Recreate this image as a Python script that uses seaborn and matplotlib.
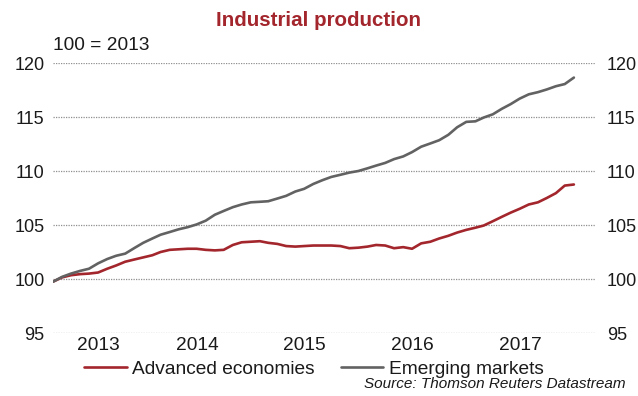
import matplotlib
matplotlib.use("Agg")
import matplotlib.pyplot as plt
import matplotlib.dates as mdates
from matplotlib.lines import Line2D
import numpy as np
import pandas as pd
import seaborn as sns

# Monthly index values (100 = 2013), March 2013 to January 2018
months = pd.date_range("2013-03-01", periods=59, freq="MS")

advanced = [
    99.75, 100.15, 100.35, 100.45, 100.5, 100.6, 100.95, 101.25, 101.6, 101.8,
    102.0, 102.2, 102.5, 102.7, 102.75, 102.8, 102.8, 102.7, 102.65, 102.7,
    103.15, 103.4, 103.45, 103.5, 103.35, 103.25, 103.05, 103.0, 103.05, 103.1,
    103.1, 103.1, 103.05, 102.85, 102.9, 103.0, 103.15, 103.1, 102.85, 102.95,
    102.8, 103.3, 103.45, 103.75, 104.0, 104.3, 104.55, 104.75, 104.95, 105.35,
    105.75, 106.15, 106.5, 106.9, 107.1, 107.5, 107.95, 108.65, 108.75,
]

emerging = [
    99.75, 100.2, 100.5, 100.75, 100.95, 101.45, 101.85, 102.15, 102.35, 102.85,
    103.35, 103.75, 104.1, 104.35, 104.6, 104.8, 105.05, 105.4, 105.95, 106.3,
    106.65, 106.9, 107.1, 107.15, 107.2, 107.45, 107.7, 108.1, 108.35, 108.8,
    109.15, 109.45, 109.65, 109.85, 110.0, 110.25, 110.5, 110.75, 111.1, 111.35,
    111.75, 112.25, 112.55, 112.85, 113.35, 114.05, 114.55, 114.6, 114.95, 115.25,
    115.75, 116.2, 116.7, 117.1, 117.3, 117.55, 117.85, 118.05, 118.65,
]

series_names = ["Advanced economies", "Emerging markets"]
year_labels = [2013, 2014, 2015, 2016, 2017]
y_ticks = [95, 100, 105, 110, 115, 120]

RED = "#a3262d"
GREY = "#626262"
TEXT = "#1a1a1a"
FS = 13.8
TICK_FS = 13

df = pd.DataFrame({
    "date": list(months) * 2,
    "value": advanced + emerging,
    "series": [series_names[0]] * len(months) + [series_names[1]] * len(months),
})

sns.set_style("white")
plt.rcParams["font.family"] = ["Liberation Sans", "DejaVu Sans"]

fig = plt.figure(figsize=(6.38, 3.96), dpi=100)
ax = fig.add_axes([53 / 638, 1 - 333 / 396, 543 / 638, 270 / 396])

sns.lineplot(data=df, x="date", y="value", hue="series",
             palette={series_names[0]: RED, series_names[1]: GREY},
             linewidth=1.9, ax=ax, legend=False)

x_left = months[0]
x_right = months[-1] + pd.Timedelta(days=75)
ax.set_xlim(x_left, x_right)
ax.set_ylim(95, 120)

# year labels centred on the visible part of each year
centers = []
for yr in year_labels:
    a = max(pd.Timestamp(f"{yr}-01-01"), x_left)
    b = min(pd.Timestamp(f"{yr + 1}-01-01"), x_right)
    centers.append(a + (b - a) / 2)
ax.set_xticks([mdates.date2num(c) for c in centers])
ax.set_xticklabels([str(y) for y in year_labels], fontsize=FS, color=TEXT)
ax.tick_params(axis="x", length=0, pad=3)

ax.set_yticks(y_ticks)
ax.set_yticklabels([str(v) for v in y_ticks], fontsize=TICK_FS, color=TEXT)
ax.tick_params(axis="y", length=0, pad=6)
ax.set_xlabel("")
ax.set_ylabel("")

ax.grid(False)
for v in y_ticks:
    ax.axhline(v, color="#8f8f8f", linewidth=0.9, linestyle=(0, (1, 1)), zorder=0)

ax2 = ax.twinx()
ax2.set_ylim(95, 120)
ax2.set_yticks(y_ticks)
ax2.set_yticklabels([str(v) for v in y_ticks], fontsize=TICK_FS, color=TEXT)
ax2.tick_params(axis="y", length=0, pad=8)

for a in (ax, ax2):
    for s in a.spines.values():
        s.set_visible(False)

fig.text(319 / 638, 1 - 21 / 396, "Industrial production", ha="center", va="center",
         fontsize=14.8, fontweight="bold", color=RED)
fig.text(53 / 638, 1 - 46 / 396, "100 = 2013", ha="left", va="center",
         fontsize=FS, color=TEXT)

handles = [Line2D([], [], color=RED, linewidth=1.9),
           Line2D([], [], color=GREY, linewidth=1.9)]
fig.legend(handles, series_names, loc="center", bbox_to_anchor=(314 / 638, 1 - 369 / 396),
           ncol=2, frameon=False, fontsize=FS, handlelength=2.2, handletextpad=0.3,
           columnspacing=1.35, labelcolor=TEXT)

fig.text(626 / 638, 1 - 384 / 396, "Source: Thomson Reuters Datastream", ha="right",
         va="center", fontsize=11, fontstyle="italic", color=TEXT)

fig.savefig("out.png", dpi=100)
